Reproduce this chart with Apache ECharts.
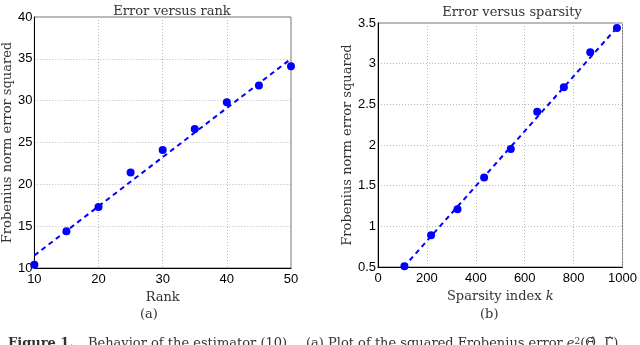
<!DOCTYPE html>
<html>
<head>
<meta charset="utf-8">
<script src="https://cdn.jsdelivr.net/npm/echarts@6/dist/echarts.min.js"></script>
<style>
  html, body { margin: 0; padding: 0; background: #fff; }
  #chart { width: 640px; height: 345px; }
</style>
</head>
<body>
<div id="chart"></div>
<script>
// panel (a): error versus rank
const rankX = [10, 15, 20, 25, 30, 35, 40, 45, 50];
const rankErr = [10.4, 14.4, 17.3, 21.4, 24.1, 26.6, 29.8, 31.8, 34.1];
const rankFit = [[10, 11.5], [50, 35.0]];

// panel (b): error versus sparsity
const sparsityX = [108, 217, 325, 434, 543, 651, 760, 868, 977];
const sparsityErr = [0.51, 0.89, 1.21, 1.6, 1.95, 2.41, 2.71, 3.14, 3.44];
const sparsityFit = [[105, 0.5], [985, 3.47]];

const serif = '"DejaVu Serif", "Liberation Serif", serif';
const sans = '"Liberation Sans", "DejaVu Sans", sans-serif';
const blue = '#0000ff';
const ink = '#333';

const chart = echarts.init(document.getElementById('chart'), null, { renderer: 'canvas' });

function xAxisOf(gridIndex, min, max, interval, name) {
    return {
        gridIndex: gridIndex,
        type: 'value',
        min: min, max: max, interval: interval,
        name: name,
        nameLocation: 'middle',
        nameGap: 18,
        nameTextStyle: { fontFamily: serif, fontSize: 13, color: ink,
            rich: { i: { fontFamily: serif, fontStyle: 'italic', fontSize: 13, color: ink } } },
        axisLine: { show: true, onZero: false, lineStyle: { color: '#000', width: 1 } },
        axisTick: { show: false },
        axisLabel: { fontFamily: sans, fontSize: 13, color: '#000', margin: 5,
            formatter: v => String(v) },
        splitLine: { show: true, lineStyle: { color: '#bbb', type: [1, 2], width: 1 } }
    };
}

function yAxisOf(gridIndex, min, max, interval, gap) {
    return {
        gridIndex: gridIndex,
        type: 'value',
        min: min, max: max, interval: interval,
        name: 'Frobenius norm error squared',
        nameLocation: 'middle',
        nameGap: gap,
        nameTextStyle: { fontFamily: serif, fontSize: 13, color: ink },
        axisLine: { show: true, onZero: false, lineStyle: { color: '#000', width: 1 } },
        axisTick: { show: false },
        axisLabel: { fontFamily: sans, fontSize: 13, color: '#000', margin: 2 },
        splitLine: { show: true, lineStyle: { color: '#bbb', type: [1, 2], width: 1 } }
    };
}

const option = {
    backgroundColor: '#fff',
    animation: false,
    title: [
        { text: 'Error versus rank', left: 167, top: 0, textAlign: 'center',
          textStyle: { fontFamily: serif, fontSize: 13, fontWeight: 'normal', color: ink } },
        { text: 'Error versus sparsity', left: 507, top: 1, textAlign: 'center',
          textStyle: { fontFamily: serif, fontSize: 13, fontWeight: 'normal', color: ink } }
    ],
    grid: [
        { left: 33, right: 349, top: 17, bottom: 77, show: true, borderColor: '#777', borderWidth: 1 },
        { left: 378, right: 16, top: 23, bottom: 78, show: true, borderColor: '#777', borderWidth: 1 }
    ],
    xAxis: [
        xAxisOf(0, 10, 50, 10, 'Rank'),
        xAxisOf(1, 0, 1000, 200, 'Sparsity index {i|k}')
    ],
    yAxis: [
        yAxisOf(0, 10, 40, 5, 19),
        yAxisOf(1, 0.5, 3.5, 0.5, 24)
    ],
    series: [
        { type: 'line', xAxisIndex: 0, yAxisIndex: 0, data: rankFit, symbol: 'none',
          lineStyle: { color: blue, width: 2, type: [5, 4] }, z: 2 },
        { type: 'scatter', xAxisIndex: 0, yAxisIndex: 0,
          data: rankX.map((x, i) => [x, rankErr[i]]),
          symbolSize: 8, itemStyle: { color: blue, opacity: 1 }, z: 3 },
        { type: 'line', xAxisIndex: 1, yAxisIndex: 1, data: sparsityFit, symbol: 'none',
          lineStyle: { color: blue, width: 2, type: [5, 4] }, z: 2 },
        { type: 'scatter', xAxisIndex: 1, yAxisIndex: 1,
          data: sparsityX.map((x, i) => [x, sparsityErr[i]]),
          symbolSize: 8, itemStyle: { color: blue, opacity: 1 }, z: 3 }
    ],
    graphic: [
        { type: 'text', left: 140, top: 308,
          style: { text: '(a)', font: '13px ' + serif, fill: ink } },
        { type: 'text', left: 480, top: 308,
          style: { text: '(b)', font: '13px ' + serif, fill: ink } },
        { type: 'text', left: 8, top: 337,
          style: { text: 'Figure 1.', font: 'bold 13px ' + serif, fill: ink } },
        { type: 'text', left: 88, top: 337,
          style: { text: 'Behavior of the estimator (10).', font: '13px ' + serif, fill: ink } },
        { type: 'text', left: 306, top: 337,
          style: {
              text: '(a) Plot of the squared Frobenius error {m|e}{s|2}(Θ̂, Γ̂)',
              rich: {
                  m: { fontFamily: serif, fontSize: 13, fontStyle: 'italic', fill: ink },
                  s: { fontFamily: serif, fontSize: 9, fill: ink, verticalAlign: 'top' }
              },
              fontFamily: serif, fontSize: 13, fill: ink
          } }
    ]
};

chart.setOption(option);
</script>
</body>
</html>
